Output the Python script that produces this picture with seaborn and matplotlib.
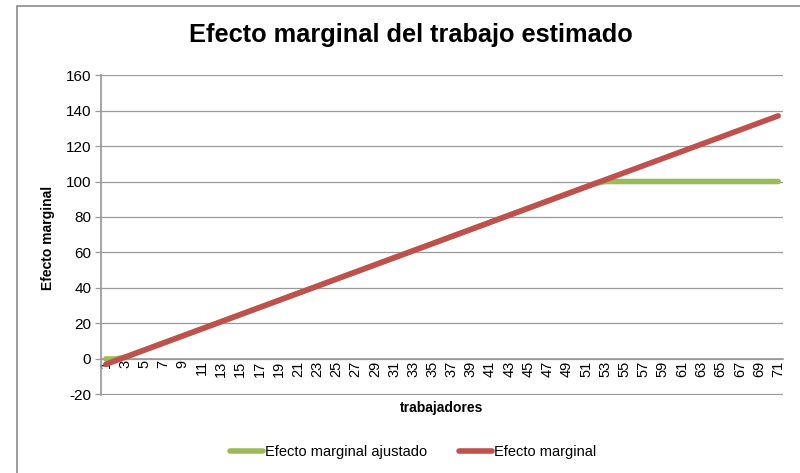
import pandas as pd
import matplotlib
matplotlib.use("Agg")
import matplotlib.pyplot as plt
import seaborn as sns
from matplotlib.lines import Line2D
from matplotlib.patches import Rectangle

# Datos (trabajadores 1..71)
trabajadores = list(range(1, 72))

efecto_marginal = [
    -3, -1, 1, 3, 5, 7, 9, 11, 13, 15, 17, 19, 21, 23, 25, 27, 29, 31, 33, 35,
    37, 39, 41, 43, 45, 47, 49, 51, 53, 55, 57, 59, 61, 63, 65, 67, 69, 71, 73, 75,
    77, 79, 81, 83, 85, 87, 89, 91, 93, 95, 97, 99, 101, 103, 105, 107, 109, 111, 113, 115,
    117, 119, 121, 123, 125, 127, 129, 131, 133, 135, 137,
]

efecto_ajustado = [
    0, 0, 1, 3, 5, 7, 9, 11, 13, 15, 17, 19, 21, 23, 25, 27, 29, 31, 33, 35,
    37, 39, 41, 43, 45, 47, 49, 51, 53, 55, 57, 59, 61, 63, 65, 67, 69, 71, 73, 75,
    77, 79, 81, 83, 85, 87, 89, 91, 93, 95, 97, 99, 100, 100, 100, 100, 100, 100, 100, 100,
    100, 100, 100, 100, 100, 100, 100, 100, 100, 100, 100,
]

y_ticks = [-20, 0, 20, 40, 60, 80, 100, 120, 140, 160]
x_tick_labels = [str(t) for t in trabajadores[::2]]

df = pd.DataFrame({
    "trabajadores": trabajadores,
    "Efecto marginal ajustado": efecto_ajustado,
    "Efecto marginal": efecto_marginal,
})

sns.set_theme(style="white")
plt.rcParams["font.family"] = ["Liberation Sans", "DejaVu Sans"]
plt.rcParams["axes.unicode_minus"] = False
plt.rcParams["text.color"] = "black"

verde = "#9BBB59"
rojo = "#C0504D"
gris = "#9a9a9a"

fig = plt.figure(figsize=(8, 4.73), dpi=100)
ax = fig.add_axes([0.12625, 0.1649, 0.8525, 0.6765])

# marco exterior del grafico
fig.patches.append(Rectangle((17 / 800, -0.05), 1.0, 1 - 6 / 473 + 0.05,
                             transform=fig.transFigure, fill=False,
                             edgecolor="#8c8c8c", linewidth=1.2))

sns.lineplot(data=df, x="trabajadores", y="Efecto marginal ajustado", ax=ax,
             color=verde, linewidth=4, solid_capstyle="round")
sns.lineplot(data=df, x="trabajadores", y="Efecto marginal", ax=ax,
             color=rojo, linewidth=4, solid_capstyle="round")

ax.set_xlim(0.5, 71.5)
ax.set_ylim(-20.3, 160)
ax.set_yticks(y_ticks)

for s in ["top", "right"]:
    ax.spines[s].set_visible(False)
ax.spines["bottom"].set_position(("data", 0))
ax.spines["bottom"].set_color(gris)
ax.spines["bottom"].set_zorder(0.5)
ax.spines["left"].set_color(gris)

ax.set_xticks(trabajadores[::2])
ax.set_xticklabels(x_tick_labels)
ax.grid(axis="y", color=gris, linewidth=0.9)
ax.set_axisbelow(True)

ax.tick_params(axis="y", which="both", left=True, length=4, width=0.9,
               color=gris, labelsize=11, pad=3, labelcolor="black")
ax.tick_params(axis="x", which="both", bottom=False, length=0, labelsize=10.5,
               pad=1, labelcolor="black", labelrotation=90)

ax.set_xlabel("")
ax.set_ylabel("")
fig.text(0.552, 0.138, "trabajadores", ha="center", va="center",
         fontsize=10, fontweight="bold")
fig.text(0.06, 0.497, "Efecto marginal", ha="center", va="center",
         rotation=90, fontsize=10, fontweight="bold")
fig.text(0.513, 0.925, "Efecto marginal del trabajo estimado", ha="center",
         va="center", fontsize=18.3, fontweight="bold")

handles = [Line2D([0], [0], color=verde, linewidth=4, solid_capstyle="round"),
           Line2D([0], [0], color=rojo, linewidth=4, solid_capstyle="round")]
fig.legend(handles, ["Efecto marginal ajustado", "Efecto marginal"],
           loc="center", bbox_to_anchor=(0.516, 0.044), ncol=2, frameon=False,
           fontsize=10.5, handlelength=2.3, handletextpad=0.1, columnspacing=2.2)

fig.savefig("out.png", dpi=100)
